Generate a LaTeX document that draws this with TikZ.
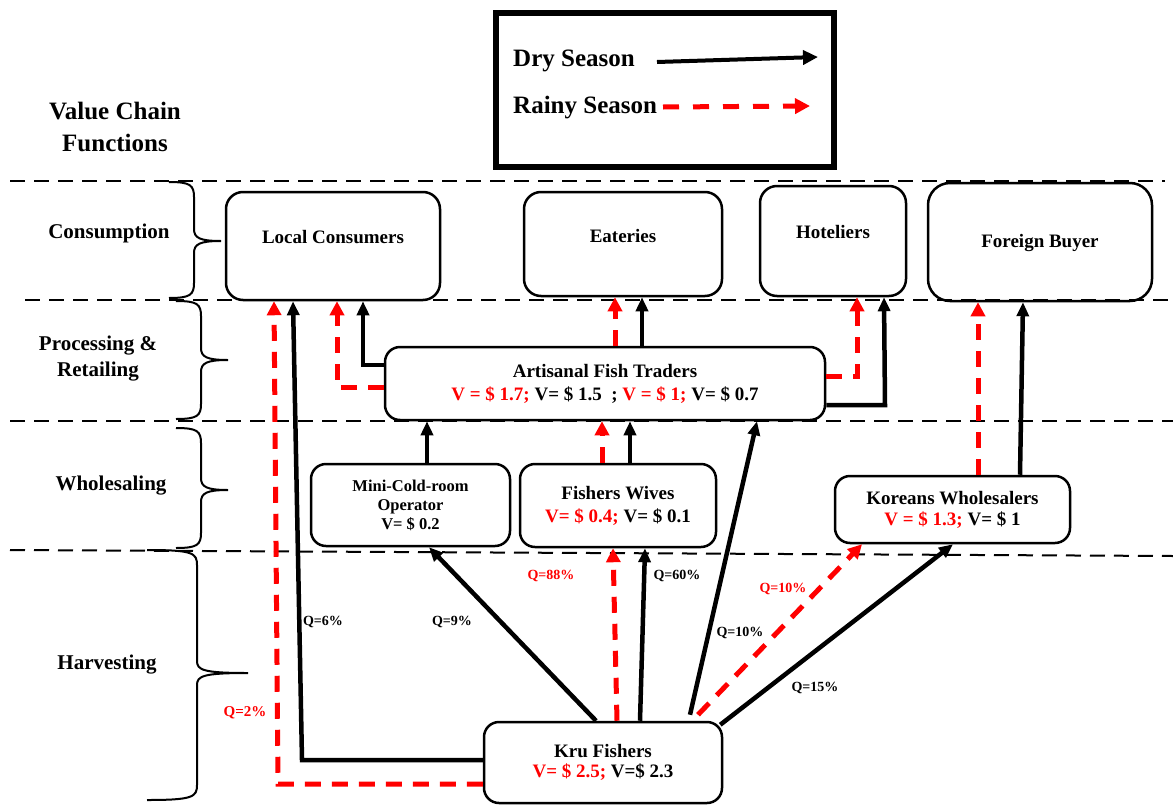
\documentclass[tikz,border=0pt]{standalone}
\usepackage{fontspec}
\setmainfont{Liberation Serif}
\usetikzlibrary{arrows.meta,calc}
\newcommand\fsz[1]{\fontsize{#1}{#1*1.2}\selectfont}
\newcommand\vbr[6]{%
  \draw[bracestyle] (#1-#5,#2) .. controls (#1-4,#2) and (#1,#2+3) .. (#1,#2+15)
     -- (#1,#3-12) .. controls (#1,#3-3) and (#1+6,#3) .. (#1+#6,#3)
     .. controls (#1+6,#3) and (#1,#3+3) .. (#1,#3+12)
     -- (#1,#4-15) .. controls (#1,#4-3) and (#1-4,#4) .. (#1-#5,#4);}
\begin{document}
\begin{tikzpicture}[x=1pt,y=-1pt,
  box/.style={draw, line width=2.5pt, rounded corners=17pt, inner sep=0pt, align=center, font=\bfseries\fontsize{19}{23}\selectfont},
  lbl/.style={inner sep=0pt, align=center, font=\bfseries\fontsize{19}{23}\selectfont},
  sect/.style={inner sep=0pt, align=center, font=\bfseries\fontsize{21}{26}\selectfont},
  qlab/.style={inner sep=0pt, font=\bfseries\fontsize{14}{16}\selectfont},
  qred/.style={qlab, text=red},
  dry/.style={line width=4.5pt, -{Triangle[length=14pt,width=12pt]}},
  rainy/.style={red, line width=5pt, dash pattern=on 16pt off 11pt, -{Triangle[length=14pt,width=14pt]}},
  sep/.style={line width=2pt, dash pattern=on 15pt off 9pt},
  bracestyle/.style={line width=2pt}]
\useasboundingbox (0,0) rectangle (1173,806);

% legend
\node[draw, line width=6pt, minimum width=338pt, minimum height=154pt, inner sep=0pt] (leg) at (664.5,90) {};
\node[anchor=base west, inner sep=0pt, font=\bfseries\fontsize{25}{30}\selectfont] (drytxt) at (513,66) {Dry Season};
\node[anchor=base west, inner sep=0pt, font=\bfseries\fontsize{25}{30}\selectfont] (raintxt) at (513,113) {Rainy Season};
\coordinate (d1) at (657,62); \coordinate (d2) at (818,57);
\coordinate (r1) at (663,107); \coordinate (r2) at (810,106);
\draw[line width=4pt, -{Triangle[length=15pt,width=14pt]}] (d1) -- (d2);
\draw[red, line width=5pt, dash pattern=on 16pt off 14pt, -{Triangle[length=15pt,width=15pt]}] (r1) -- (r2);

% title and sections
\node[inner sep=0pt, align=center, font=\bfseries\fontsize{25}{32}\selectfont] (vcf) at (115,127) {Value Chain\\Functions};
\node[sect] (scons) at (109,233) {Consumption};
\node[sect] (sproc) at (98,359) {Processing \&\\Retailing};
\node[sect] (swhole) at (111,486) {Wholesaling};
\node[sect] (sharv) at (107,665) {Harvesting};

% separators
\draw[sep] (10,181) -- (1165,181);
\draw[sep] (25,300) -- (1173,300);
\draw[sep] (10,421) -- (1173,421);
\draw[sep] (10,550) -- (1173,556);

% braces
\vbr{194}{182}{241}{298}{25}{27}
\vbr{201}{301}{360}{419}{25}{27}
\vbr{201}{428}{490}{548}{25}{27}
\vbr{197}{550}{673}{800}{50}{51}

% boxes
\node[box, minimum width=214pt, minimum height=108pt] (lc) at (333,246) {};
\node[lbl] (lct) at (333,237) {Local Consumers};
\node[box, minimum width=198pt, minimum height=104pt] (eat) at (623,244) {};
\node[lbl] (eatt) at (623,236) {Eateries};
\node[box, minimum width=146pt, minimum height=110pt] (hot) at (833,241) {};
\node[lbl] (hott) at (833,232) {Hoteliers};
\node[box, minimum width=224pt, minimum height=118pt, rounded corners=22pt] (fb) at (1040,242) {};
\node[lbl] (fbt) at (1040,243) {Foreign Buyer};

\node[box, minimum width=440pt, minimum height=73pt, rounded corners=15pt] (aft) at (605,383.5)
  {Artisanal Fish Traders\\ \textcolor{red}{V = \$ 1.7;} V= \$ 1.5~~; \textcolor{red}{V = \$ 1;} V= \$ 0.7};
\node[box, minimum width=199pt, minimum height=82pt, rounded corners=15pt, font=\bfseries\fontsize{16.5}{19}\selectfont] (mco) at (410.5,505)
  {Mini-Cold-room\\Operator\\V= \$ 0.2};
\node[box, minimum width=196pt, minimum height=83pt, rounded corners=15pt] (fw) at (618,505.5)
  {Fishers Wives\\ \textcolor{red}{V= \$ 0.4;} V= \$ 0.1};
\node[box, minimum width=235pt, minimum height=67pt, rounded corners=15pt, font=\bfseries\fontsize{19}{21}\selectfont] (kw) at (952.5,509.5)
  {Koreans Wholesalers\\ \textcolor{red}{V = \$ 1.3;} V= \$ 1};
\node[box, minimum width=238pt, minimum height=81pt, rounded corners=15pt, font=\bfseries\fontsize{19}{20}\selectfont] (kru) at (603,762.5)
  {Kru Fishers\\ \textcolor{red}{V= \$ 2.5;} V=\$ 2.3};

% connectors from Kru Fishers
\draw[dry] (kru.west |- 0,760) -- (302,760) -- (293,0 |- lc.south);
\draw[rainy] (kru.west |- 0,784) -- (278,784) -- (274,0 |- lc.south);
\draw[dry] (596,0 |- kru.north) -- (429,0 |- mco.south);
\draw[rainy] (617,0 |- kru.north) -- (613,0 |- fw.south);
\draw[dry] (640,0 |- kru.north) -- (645,0 |- fw.south);
\draw[dry] ($(kru.north)+(87,-6)$) -- (757,0 |- aft.south);
\draw[rainy] ($(kru.north)+(95,-6)$) -- (862,0 |- kw.south);
\draw[dry] ($(kru.north east)+(-3,4)$) -- (953,0 |- kw.south);

% wholesaling to traders
\draw[dry] (427,0 |- mco.north) -- (427,0 |- aft.south);
\draw[rainy] (602,0 |- fw.north) -- (602,0 |- aft.south);
\draw[dry] (630,0 |- fw.north) -- (630,0 |- aft.south);

% traders to consumers
\draw[dry] (aft.west |- 0,365) -- (363,365) -- (363,0 |- lc.south);
\draw[rainy] (aft.west |- 0,387) -- (337,387) -- (337,0 |- lc.south);
\draw[rainy] (615,0 |- aft.north) -- (615,0 |- eat.south);
\draw[dry] (642,0 |- aft.north) -- (642,0 |- eat.south);
\draw[rainy] (aft.east |- 0,376) -- (857,376) -- (857,0 |- hot.south);
\draw[dry] (aft.east |- 0,405) -- (885,405) -- (884,0 |- hot.south);

% koreans to foreign buyer
\draw[rainy] (978,0 |- kw.north) -- (978,0 |- fb.south);
\draw[dry] (1020,0 |- kw.north) -- (1023,0 |- fb.south);

% labels
\node[qlab] (q6) at (323,622) {Q=6\%};
\node[qlab] (q9) at (452,622) {Q=9\%};
\node[qred, font=\bfseries\fontsize{15}{17}\selectfont] (q2) at (245,713) {Q=2\%};
\node[qred] (q88) at (551,576) {Q=88\%};
\node[qlab] (q60) at (677,576) {Q=60\%};
\node[qlab] (q10b) at (740,633) {Q=10\%};
\node[qred] (q10r) at (783,589) {Q=10\%};
\node[qlab] (q15) at (815,688) {Q=15\%};
\end{tikzpicture}
\end{document}
